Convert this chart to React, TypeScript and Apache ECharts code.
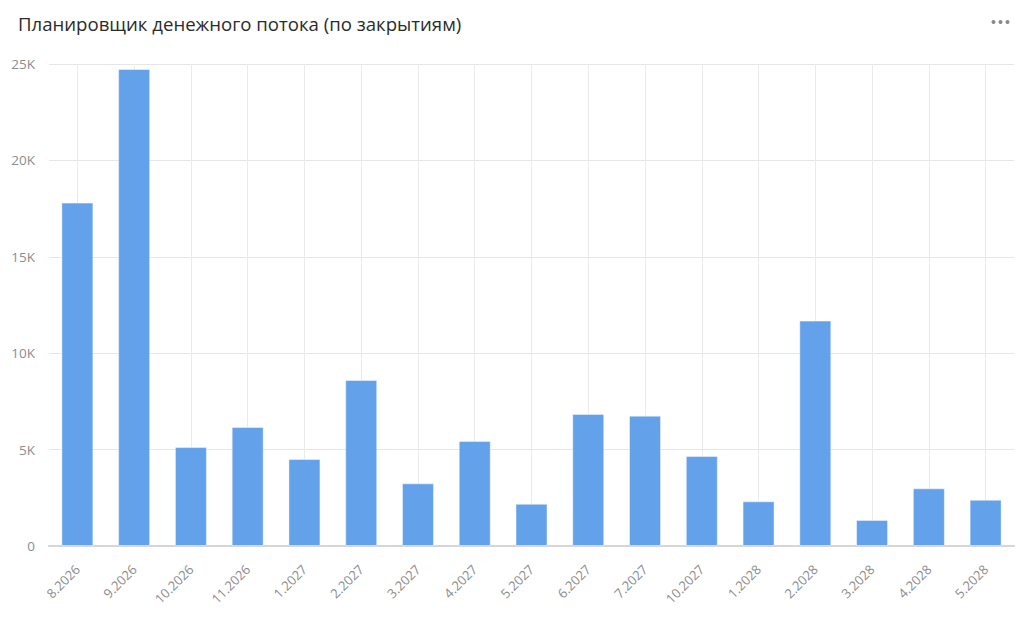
import React, { useEffect, useRef } from "react";
import * as echarts from "echarts";

const categories = [
  "8.2026", "9.2026", "10.2026", "11.2026", "1.2027", "2.2027", "3.2027", "4.2027",
  "5.2027", "6.2027", "7.2027", "10.2027", "1.2028", "2.2028", "3.2028", "4.2028", "5.2028",
];
const values = [
  17810, 24740, 5130, 6170, 4510, 8610, 3250, 5450,
  2190, 6850, 6760, 4670, 2320, 11690, 1350, 2990, 2400,
];
const yTicks = { min: 0, max: 25000, interval: 5000 };
const titleText = "Планировщик денежного потока (по закрытиям)";

export default function App() {
  const ref = useRef<HTMLDivElement>(null);
  useEffect(() => {
    document.body.style.margin = "0";
    const chart = echarts.init(ref.current!, null, { renderer: "svg" });
    chart.setOption({
      animation: false,
      backgroundColor: "#ffffff",
      textStyle: { fontFamily: "Open Sans" },
      title: {
        text: titleText,
        left: 13,
        top: 9,
        textStyle: { fontSize: 18.6, fontWeight: "normal", color: "#2b2b2b", fontFamily: "Open Sans" },
      },
      graphic: [
        { type: "circle", shape: { cx: 993.5, cy: 22, r: 2 }, style: { fill: "#8a8a8a" } },
        { type: "circle", shape: { cx: 1000.5, cy: 22, r: 2 }, style: { fill: "#8a8a8a" } },
        { type: "circle", shape: { cx: 1007.5, cy: 22, r: 2 }, style: { fill: "#8a8a8a" } },
      ],
      grid: { left: 49, right: 10, top: 64, bottom: 77, containLabel: false },
      xAxis: {
        type: "category",
        data: categories,
        axisLine: { lineStyle: { color: "#d6d6d6", width: 2 } },
        axisTick: { show: false },
        axisLabel: { rotate: 45, color: "#8c8c8c", fontSize: 13, margin: 21, interval: 0 },
        splitLine: { show: true, alignWithLabel: true, lineStyle: { color: "#ebebeb", width: 1 } },
      },
      yAxis: {
        type: "value",
        min: yTicks.min,
        max: yTicks.max,
        interval: yTicks.interval,
        axisLine: { show: false },
        axisTick: { show: false },
        axisLabel: {
          color: "#8c8c8c",
          fontSize: 13.5,
          margin: 14,
          formatter: (v: number) => (v === 0 ? "0" : v / 1000 + "K"),
        },
        splitLine: { lineStyle: { color: "#e6e6e6", width: 1 } },
      },
      series: [
        {
          type: "bar",
          data: values,
          barWidth: 32,
          itemStyle: { color: "#63a1ea", borderColor: "rgba(255,255,255,0.45)", borderWidth: 1 },
        },
      ],
    });
    return () => chart.dispose();
  }, []);
  return <div ref={ref} style={{ width: 1024, height: 623 }} />;
}
